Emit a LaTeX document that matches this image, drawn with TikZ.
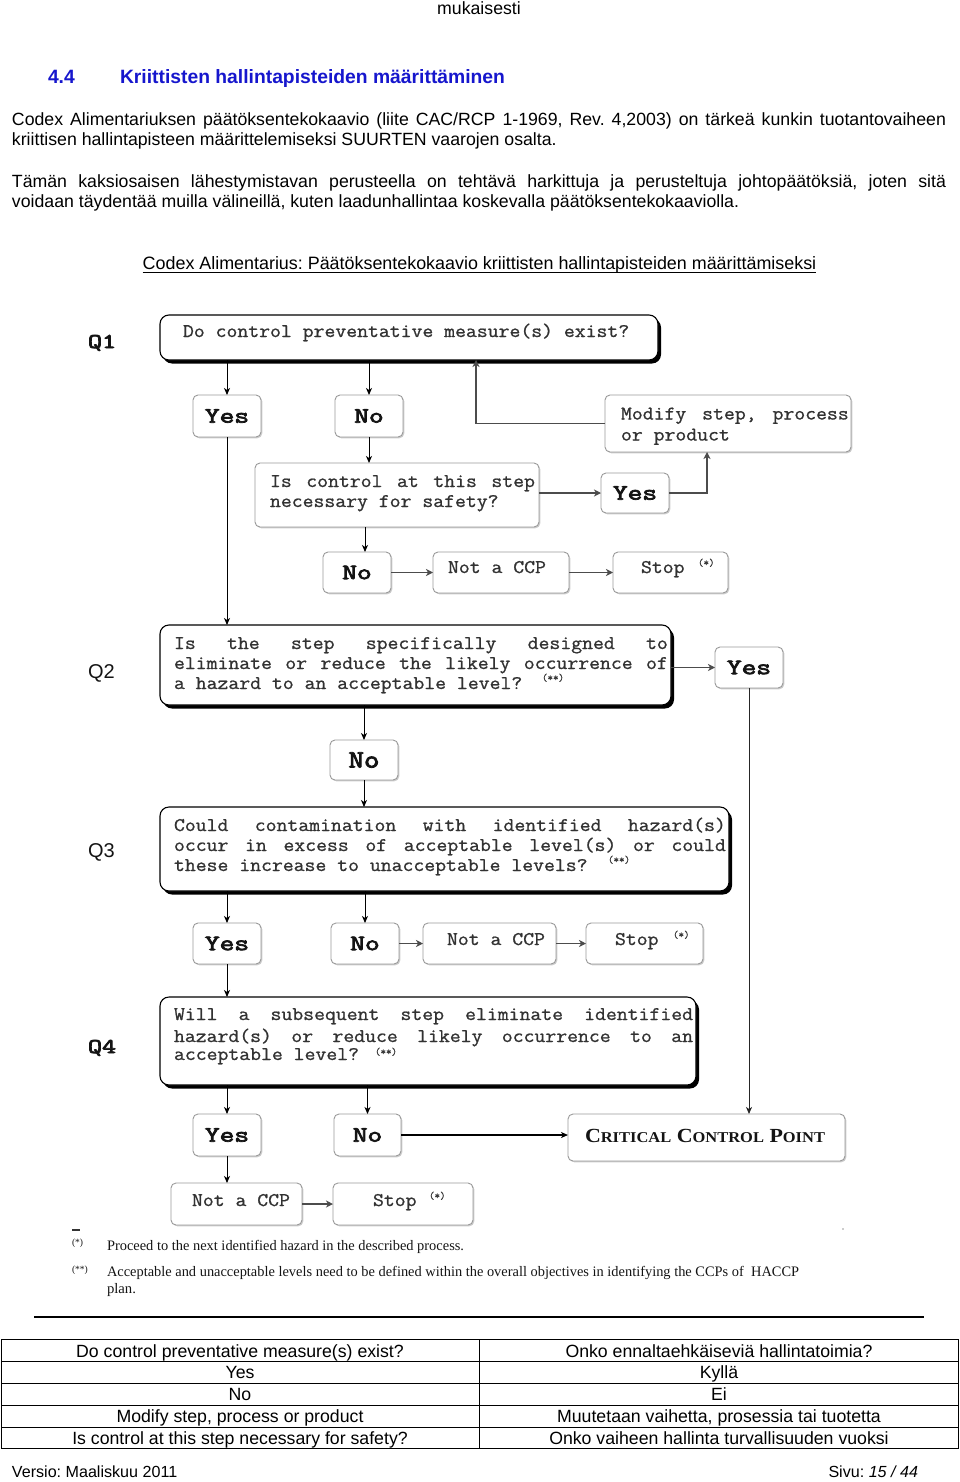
\documentclass[tikz,border=0pt]{standalone}
\usepackage{fontspec}
\usepackage{graphicx}
\setmainfont{Liberation Sans}
\newfontfamily\seriff{Liberation Serif}
\newfontfamily\ttbold[FakeBold=3.2]{Latin Modern Mono}
\newfontfamily\ttmed[FakeBold=0.9]{Latin Modern Mono}
\usetikzlibrary{arrows.meta,shadows}
\newcommand\fsz[1]{\fontsize{#1pt}{#1pt}\selectfont}
\newcommand\mt[1]{\scalebox{1.095}[1]{#1}}
\newcommand\yn[1]{\scalebox{1.3}[1]{#1}}
\definecolor{headblue}{RGB}{22,22,205}
\definecolor{boxtext}{RGB}{50,50,50}
\definecolor{yntext}{RGB}{20,20,20}
\frenchspacing
\begin{document}
\begin{tikzpicture}[x=1pt,y=-1pt,
  qbox/.style={draw=black, line width=1.1pt, rounded corners=9pt, fill=white, inner sep=0pt, outer sep=0pt, anchor=north west,
    drop shadow={shadow xshift=3pt, shadow yshift=-3.5pt, fill=black, opacity=1}},
  sbox/.style={draw=black!40, line width=0.9pt, rounded corners=5pt, fill=white, inner sep=0pt, outer sep=0pt, anchor=north west,
    drop shadow={shadow xshift=1.3pt, shadow yshift=-1.3pt, fill=black, opacity=0.2}},
  ynbox/.style={sbox, font=\ttbold\fsz{22}, text=yntext},
  btxt/.style={inner sep=0pt, outer sep=0pt, anchor=base west, font=\fsz{17.7}},
  ttxt/.style={inner sep=0pt, outer sep=0pt, anchor=base, font=\fsz{17.7}},
  mtxt/.style={inner sep=0pt, outer sep=0pt, anchor=base west, font=\ttmed\fsz{19.3}, text=boxtext},
  suptxt/.style={inner sep=0pt, outer sep=0pt, anchor=base west, font=\ttmed\fsz{10.5}, text=boxtext},
  qlab/.style={inner sep=0pt, outer sep=0pt, anchor=base west, font=\ttbold\fsz{21}, text=yntext},
  qlabs/.style={inner sep=0pt, outer sep=0pt, anchor=base west, font=\fsz{20}, text=yntext},
  fntxt/.style={inner sep=0pt, outer sep=0pt, anchor=base west, font=\seriff\fsz{14.5}, text=yntext},
  fnmark/.style={inner sep=0pt, outer sep=0pt, anchor=base west, font=\seriff\fsz{9.5}, text=yntext},
  arr/.style={-{Stealth[length=7pt,width=6pt,inset=2pt]}, line width=1pt, draw=black},
  arrg/.style={-{Stealth[length=7pt,width=7pt,inset=2pt]}, line width=1.8pt, draw=black!70},
  tbl/.style={line width=0.8pt, draw=black}
]
\useasboundingbox (0,0) rectangle (960,1482);

% ---------- header text ----------
\node[ttxt] (muk) at (479,15) {mukaisesti};
\node[btxt, font=\bfseries\fsz{19.3}, text=headblue] (hnum) at (48,84) {4.4};
\node[btxt, font=\bfseries\fsz{19.3}, text=headblue] (htit) at (120,84) {Kriittisten hallintapisteiden määrittäminen};
\node[btxt] (p1a) at (12,125.3) {\makebox[934pt][s]{Codex Alimentariuksen päätöksentekokaavio (liite CAC/RCP 1-1969, Rev. 4,2003) on tärkeä kunkin tuotantovaiheen}};
\node[btxt] (p1b) at (12,145.7) {kriittisen hallintapisteen määrittelemiseksi SUURTEN vaarojen osalta.};
\node[btxt] (p2a) at (12,187.5) {\makebox[934pt][s]{Tämän kaksiosaisen lähestymistavan perusteella on tehtävä harkittuja ja perusteltuja johtopäätöksiä, joten sitä}};
\node[btxt] (p2b) at (12,207.7) {voidaan täydentää muilla välineillä, kuten laadunhallintaa koskevalla päätöksentekokaaviolla.};
\node[ttxt, font=\fsz{17.9}] (capt) at (479.5,269) {Codex Alimentarius: Päätöksentekokaavio kriittisten hallintapisteiden määrittämiseksi};
\draw[line width=0.9pt] ([yshift=-3.5pt]capt.base west) -- ([yshift=-3.5pt]capt.base east);

% ---------- question labels ----------
\node[qlab] (lq1) at (88,348) {\yn{Q1}};
\node[qlabs] (lq2) at (88,678) {Q2};
\node[qlabs] (lq3) at (88,857) {Q3};
\node[qlab] (lq4) at (88,1053) {\yn{Q4}};

% ---------- boxes ----------
\node[qbox, minimum width=498pt, minimum height=45pt] (q1) at (160,315) {};
\node[ynbox, minimum width=68pt, minimum height=42pt] (yes1) at (193,395) {\yn{Yes}};
\node[ynbox, minimum width=68pt, minimum height=42pt] (no1) at (335,395) {\yn{No}};
\node[sbox, minimum width=246pt, minimum height=57pt] (modify) at (605,395) {};
\node[sbox, minimum width=284pt, minimum height=64pt] (isctl) at (255,463) {};
\node[ynbox, minimum width=68pt, minimum height=40pt] (yes2) at (601,473) {\yn{Yes}};
\node[ynbox, minimum width=68pt, minimum height=41pt] (no2) at (323,552) {\yn{No}};
\node[sbox, minimum width=136pt, minimum height=41pt] (nc1) at (433,552) {};
\node[sbox, minimum width=115pt, minimum height=41pt] (stop1) at (613,552) {};

\node[qbox, minimum width=511pt, minimum height=80pt] (q2) at (160,625) {};
\node[ynbox, minimum width=68pt, minimum height=41pt] (yes3) at (715,647) {\yn{Yes}};
\node[ynbox, minimum width=68pt, minimum height=40pt, font=\ttbold\fsz{25}] (no4) at (330,740) {\scalebox{1.2}[1]{No}};

\node[qbox, minimum width=569pt, minimum height=84pt] (q3) at (160,807) {};
\node[ynbox, minimum width=68pt, minimum height=41pt] (yes5) at (193,923) {\yn{Yes}};
\node[ynbox, minimum width=68pt, minimum height=41pt] (no5) at (331,923) {\yn{No}};
\node[sbox, minimum width=133pt, minimum height=41pt] (nc2) at (423,923) {};
\node[sbox, minimum width=117pt, minimum height=41pt] (stop2) at (586,923) {};

\node[qbox, minimum width=536pt, minimum height=88pt] (q4) at (160,997) {};
\node[ynbox, minimum width=68pt, minimum height=42pt] (yes6) at (193,1114) {\yn{Yes}};
\node[ynbox, minimum width=67pt, minimum height=42pt] (no6) at (334,1114) {\yn{No}};
\node[sbox, minimum width=277pt, minimum height=47pt] (ccp) at (568,1114) {};
\node[sbox, minimum width=131pt, minimum height=42pt] (nc3) at (171,1183) {};
\node[sbox, minimum width=140pt, minimum height=42pt] (stop3) at (333,1183) {};

% ---------- box texts ----------
\node[mtxt] (t1) at (183,337) {\mt{Do control preventative measure(s) exist?}};
\node[mtxt] (tm1) at (621,419.5) {\mt{\makebox[208pt]{Modify\hfill step,\hfill process}}};
\node[mtxt] (tm2) at (621,440.5) {\mt{or product}};
\node[mtxt] (ti1) at (270,487) {\mt{\makebox[242pt]{Is\hfill control\hfill at\hfill this\hfill step}}};
\node[mtxt] (ti2) at (270,507) {\mt{necessary for safety?}};
\node[mtxt] (tn1) at (448,573) {\mt{Not a CCP}};
\node[mtxt] (ts1) at (641,573) {\mt{Stop}};
\node[suptxt] (ss1) at (698,566) {(*)};

\node[mtxt] (t2a) at (174,649) {\mt{\makebox[451pt]{Is\hfill the\hfill step\hfill specifically\hfill designed\hfill to}}};
\node[mtxt] (t2b) at (174,669) {\mt{\makebox[451pt]{eliminate\hfill or\hfill reduce\hfill the\hfill likely\hfill occurrence\hfill of}}};
\node[mtxt] (t2c) at (174,689) {\mt{a hazard to an acceptable level?}};
\node[suptxt] (s2) at (542,681) {(**)};

\node[mtxt] (t3a) at (174,831) {\mt{\makebox[504pt]{Could\hfill contamination\hfill with\hfill identified\hfill hazard(s)}}};
\node[mtxt] (t3b) at (174,851) {\mt{\makebox[504pt]{occur\hfill in\hfill excess\hfill of\hfill acceptable\hfill level(s)\hfill or\hfill could}}};
\node[mtxt] (t3c) at (174,871) {\mt{these increase to unacceptable levels?}};
\node[suptxt] (s3) at (608,863) {(**)};
\node[mtxt] (tn2) at (447,945) {\mt{Not a CCP}};
\node[mtxt] (ts2) at (615,945) {\mt{Stop}};
\node[suptxt] (ss2) at (673,938) {(*)};

\node[mtxt] (t4a) at (174,1020) {\mt{\makebox[474pt]{Will\hfill a\hfill subsequent\hfill step\hfill eliminate\hfill identified}}};
\node[mtxt] (t4b) at (174,1042) {\mt{\makebox[474pt]{hazard(s)\hfill or\hfill reduce\hfill likely\hfill occurrence\hfill to\hfill an}}};
\node[mtxt] (t4c) at (174,1060) {\mt{acceptable level?}};
\node[suptxt] (s4) at (375,1055) {(**)};
\node[inner sep=0pt, outer sep=0pt, anchor=base, font=\seriff\bfseries\fsz{20}, text=yntext] (tccp) at (705,1142)
  {\resizebox{240pt}{\height}{C{\fsz{15}RITICAL} C{\fsz{15}ONTROL} P{\fsz{15}OINT}}};
\node[mtxt] (tn3) at (192,1206) {\mt{Not a CCP}};
\node[mtxt] (ts3) at (373,1206) {\mt{Stop}};
\node[suptxt] (ss3) at (429,1199) {(*)};

% ---------- connectors ----------
\draw[arr] (q1.south -| yes1.north) -- (yes1.north);
\draw[arr] (q1.south -| no1.north) -- (no1.north);
\draw[arr] (no1.south) -- (no1.south |- isctl.north);
\draw[arrg] (yes2.west -| isctl.east) -- (yes2.west);
\draw[arrg] (yes2.east) -| ([xshift=-21pt]modify.south);
\draw[arrg] (modify.west) -| ([xshift=67pt]q1.south);
\draw[arr] ([xshift=8pt]isctl.south -| no2.north) -- ([xshift=8pt]no2.north);
\draw[arrg] (no2.east) -- (no2.east -| nc1.west);
\draw[arrg] (nc1.east) -- (nc1.east -| stop1.west);
\draw[arr] (yes1.south) -- (yes1.south |- q2.north);

\draw[arrg] (yes3.west -| q2.east) -- (yes3.west);
\draw[arr] (q2.south -| no4.north) -- (no4.north);
\draw[arr] (no4.south) -- (no4.south |- q3.north);
\draw[arr, line width=0.9pt, draw=black!85] (yes3.south) -- (yes3.south |- ccp.north);

\draw[arr] (q3.south -| yes5.north) -- (yes5.north);
\draw[arr] (q3.south -| no5.north) -- (no5.north);
\draw[arrg] (no5.east) -- (no5.east -| nc2.west);
\draw[arrg] (nc2.east) -- (nc2.east -| stop2.west);
\draw[arr] (yes5.south) -- (yes5.south |- q4.north);

\draw[arr] (q4.south -| yes6.north) -- (yes6.north);
\draw[arr] (q4.south -| no6.north) -- (no6.north);
\draw[arr, line width=1.2pt] (no6.east) -- (no6.east -| ccp.west);
\draw[arr] (yes6.south) -- (yes6.south |- nc3.north);
\draw[arrg] (nc3.east) -- (nc3.east -| stop3.west);

% ---------- footnotes ----------
\draw[line width=1.5pt, draw=black!80] (72,1230) -- (80,1230);
\fill[black!40] (843,1229) circle (0.8);
\node[fnmark] (fm1) at (72,1245) {(*)};
\node[fntxt] (fn1) at (107,1250) {\resizebox{357pt}{\height}{Proceed to the next identified hazard in the described process.}};
\node[fnmark] (fm2) at (72,1272) {(**)};
\node[fntxt] (fn2) at (107,1276) {\resizebox{692pt}{\height}{Acceptable and unacceptable levels need to be defined within the overall objectives in identifying the CCPs of \ HACCP}};
\node[fntxt] (fn3) at (107,1293) {\resizebox{29pt}{\height}{plan.}};

% ---------- rule and table ----------
\draw[line width=1.3pt] (34,1317) -- (924,1317);
\draw[tbl] (1,1339.5) rectangle (958,1448.5);
\foreach \yy in {1361.5,1383.5,1405,1427} \draw[tbl] (1,\yy) -- (958,\yy);
\draw[tbl] (479.5,1339.5) -- (479.5,1448.5);
\node[ttxt] (r1a) at (240,1357) {Do control preventative measure(s) exist?};
\node[ttxt] (r1b) at (719,1357) {Onko ennaltaehkäiseviä hallintatoimia?};
\node[ttxt] (r2a) at (240,1378.7) {Yes};
\node[ttxt] (r2b) at (719,1378.7) {Kyllä};
\node[ttxt] (r3a) at (240,1400.5) {No};
\node[ttxt] (r3b) at (719,1400.5) {Ei};
\node[ttxt] (r4a) at (240,1422) {Modify step, process or product};
\node[ttxt] (r4b) at (719,1422) {Muutetaan vaihetta, prosessia tai tuotetta};
\node[ttxt] (r5a) at (240,1444) {Is control at this step necessary for safety?};
\node[ttxt] (r5b) at (719,1444) {Onko vaiheen hallinta turvallisuuden vuoksi};

% ---------- footer ----------
\node[btxt, font=\fsz{16.1}] (fl) at (12,1477.5) {Versio: Maaliskuu 2011};
\node[inner sep=0pt, outer sep=0pt, anchor=base east, font=\fsz{16.1}] (fr) at (918,1477.5) {Sivu: \textit{15 / 44}};
\end{tikzpicture}
\end{document}
